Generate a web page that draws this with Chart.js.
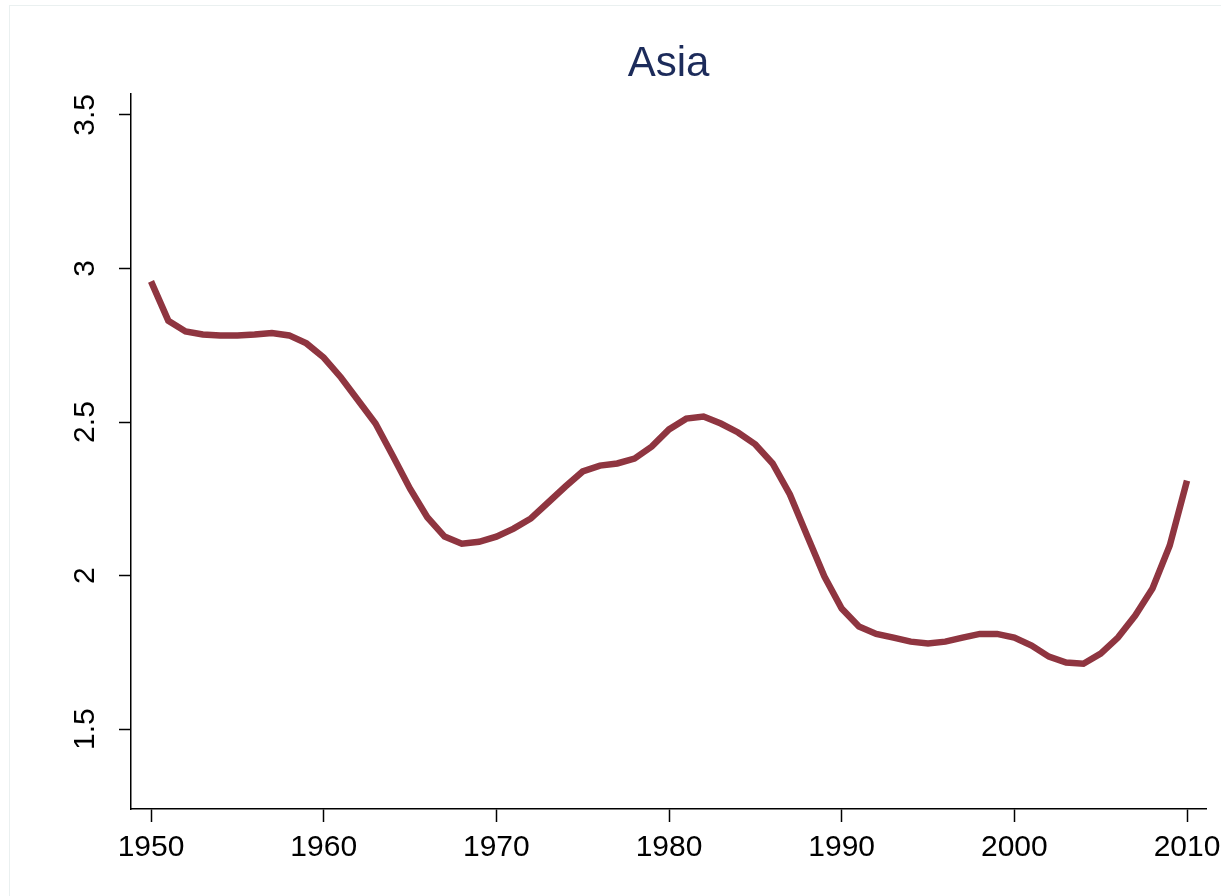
<!DOCTYPE html>
<html>
<head>
<meta charset="utf-8">
<script src="https://cdn.jsdelivr.net/npm/chart.js@4/dist/chart.umd.min.js"></script>
<style>
    html, body { margin: 0; padding: 0; background: #fff; }
    #wrap { position: relative; width: 1221px; height: 896px; }
    #frame { position: absolute; left: 9px; top: 5px; right: -5px; bottom: -5px; border: 1px solid #eaf0f0; }
    canvas { position: absolute; left: 0; top: 0; }
</style>
</head>
<body>
<div id="wrap">
    <div id="frame"></div>
    <canvas id="myChart" width="1221" height="896"></canvas>
</div>
<script>
const years = [
    1950, 1951, 1952, 1953, 1954, 1955, 1956, 1957, 1958, 1959,
    1960, 1961, 1962, 1963, 1964, 1965, 1966, 1967, 1968, 1969,
    1970, 1971, 1972, 1973, 1974, 1975, 1976, 1977, 1978, 1979,
    1980, 1981, 1982, 1983, 1984, 1985, 1986, 1987, 1988, 1989,
    1990, 1991, 1992, 1993, 1994, 1995, 1996, 1997, 1998, 1999,
    2000, 2001, 2002, 2003, 2004, 2005, 2006, 2007, 2008, 2009,
    2010
];
const asiaValues = [
    2.958, 2.830, 2.795, 2.785, 2.782, 2.782, 2.785, 2.790, 2.782, 2.756,
    2.710, 2.645, 2.570, 2.495, 2.390, 2.283, 2.190, 2.127, 2.104, 2.110,
    2.127, 2.153, 2.186, 2.238, 2.290, 2.339, 2.358, 2.365, 2.381, 2.420,
    2.476, 2.511, 2.518, 2.495, 2.466, 2.427, 2.365, 2.264, 2.130, 1.997,
    1.893, 1.834, 1.810, 1.798, 1.785, 1.779, 1.785, 1.798, 1.810, 1.810,
    1.798, 1.772, 1.736, 1.717, 1.713, 1.746, 1.798, 1.870, 1.958, 2.098,
    2.309
];
const xTicks = [1950, 1960, 1970, 1980, 1990, 2000, 2010];
const yTicks = [1.5, 2, 2.5, 3, 3.5];

const axisColor = "#000000";
const fontFamily = "'Liberation Sans', Arial, sans-serif";

let points = years.map((y, i) => ({ x: y, y: asiaValues[i] }));

const ctx = document.getElementById("myChart").getContext("2d");
let myChart = new Chart(ctx, {
    type: "line",
    data: {
        datasets: [{
            label: "Asia",
            data: points,
            borderColor: "#8f3540",
            borderWidth: 6.5,
            pointRadius: 0,
            tension: 0,
            fill: false
        }]
    },
    options: {
        animation: false,
        responsive: false,
        layout: { padding: { left: 0, right: 15, top: 0, bottom: 0 } },
        plugins: {
            legend: { display: false },
            tooltip: { enabled: false },
            title: {
                display: true,
                text: "Asia",
                fullSize: false,
                color: "#1c2b5a",
                font: { family: fontFamily, size: 42, weight: "normal", lineHeight: 1.2 },
                padding: { top: 39, bottom: 4 }
            }
        },
        scales: {
            x: {
                type: "linear",
                min: 1948.84,
                max: 2011.1,
                afterBuildTicks: (scale) => { scale.ticks = xTicks.map(v => ({ value: v })); },
                afterFit: (scale) => {
                    scale.height = 87;
                    // keep the last label from squeezing the plot, like the original
                    scale.paddingLeft = 0;
                    scale.paddingRight = 0;
                },
                grid: {
                    display: true,
                    drawOnChartArea: false,
                    drawTicks: true,
                    tickLength: 13,
                    tickColor: axisColor,
                    tickWidth: 1.5
                },
                border: { display: true, color: axisColor, width: 1.5 },
                ticks: {
                    color: "#000",
                    font: { family: fontFamily, size: 30 },
                    padding: 8,
                    maxRotation: 0,
                    autoSkip: false,
                    callback: (v) => String(v)
                }
            },
            y: {
                type: "linear",
                min: 1.24,
                max: 3.57,
                afterBuildTicks: (scale) => { scale.ticks = yTicks.map(v => ({ value: v })); },
                afterFit: (scale) => { scale.width = 131; },
                grid: {
                    display: true,
                    drawOnChartArea: false,
                    drawTicks: true,
                    tickLength: 12,
                    tickColor: axisColor,
                    tickWidth: 1.5
                },
                border: { display: true, color: axisColor, width: 1.5 },
                ticks: {
                    color: "#000",
                    font: { family: fontFamily, size: 30 },
                    minRotation: 90,
                    maxRotation: 90,
                    crossAlign: "center",
                    padding: 12,
                    autoSkip: false,
                    callback: (v) => String(v)
                }
            }
        }
    }
});
</script>
</body>
</html>
